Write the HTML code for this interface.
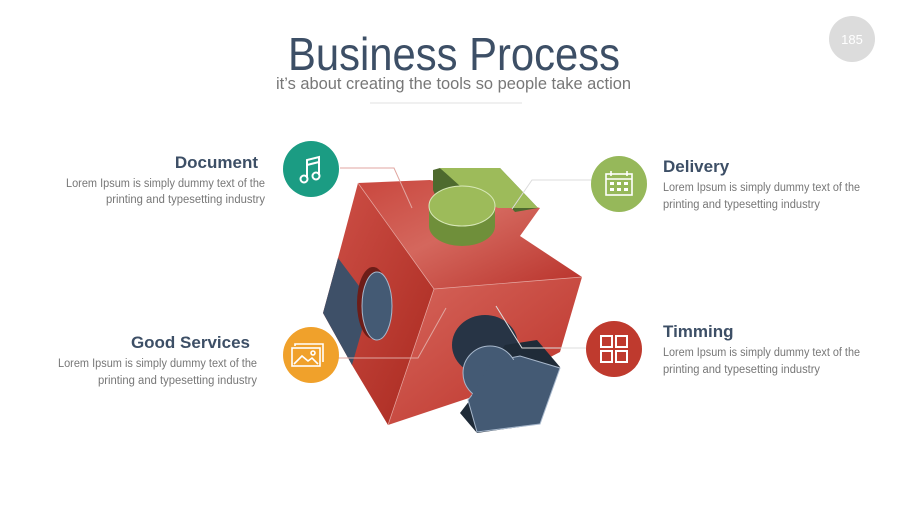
<!DOCTYPE html>
<html><head><meta charset="utf-8"><style>
html,body{margin:0;padding:0;background:#fff;width:900px;height:506px;overflow:hidden}
svg{display:block}
text{font-family:"Liberation Sans",sans-serif}
</style></head><body>
<svg width="900" height="506" viewBox="0 0 900 506">
<defs>
<linearGradient id="rt" x1="0" y1="0" x2="1" y2="1"><stop offset="0" stop-color="#c9473e"/><stop offset="0.45" stop-color="#d4675d"/><stop offset="1" stop-color="#b8312a"/></linearGradient>
<linearGradient id="rl" x1="0" y1="0" x2="1" y2="1"><stop offset="0" stop-color="#cf5148"/><stop offset="1" stop-color="#a9291f"/></linearGradient>
<linearGradient id="rr" x1="0" y1="0" x2="1" y2="1"><stop offset="0" stop-color="#d6665c"/><stop offset="1" stop-color="#bb3128"/></linearGradient>
</defs>
<circle cx="852" cy="39" r="23" fill="#dcdcdc"/>
<text x="852" y="44" font-size="13" fill="#fff" text-anchor="middle">185</text>
<text x="288" y="70" font-size="46" fill="#3d4f66" textLength="332" lengthAdjust="spacingAndGlyphs">Business Process</text>
<text x="276" y="89" font-size="17" fill="#777" textLength="355" lengthAdjust="spacingAndGlyphs">it’s about creating the tools so people take action</text>
<line x1="370" y1="103" x2="522" y2="103" stroke="#e2e2e2" stroke-width="1"/>

<!-- cube -->
<polygon points="358,183 430,180 540,208 520,236 582,277 434,289" fill="url(#rt)"/>
<polygon points="358,183 434,289 388,425 352,365 323,313 338,258" fill="url(#rl)"/>
<polygon points="434,289 582,277 560,352 478,395 388,425" fill="url(#rr)"/>
<!-- green piece -->
<ellipse cx="462" cy="212" rx="33" ry="22" fill="#6d1d18"/>
<polygon points="433,170 440,168 476,198 462,212 445,218 433,190" fill="#4e6a2e"/>
<polygon points="500,168 538,208 515,212 500,195" fill="#4e6a2e"/>
<polygon points="440,168 500,168 538,208 498,208 470,195" fill="#9dbb5a"/>
<path d="M429,206 L429,226 A33,20 0 0 0 495,226 L495,206 Z" fill="#6f8f3a"/>
<ellipse cx="462" cy="206" rx="33" ry="20" fill="#9dbb5a" stroke="#d8e8b8" stroke-width="1"/>
<!-- left blue piece -->
<polygon points="323,313 338,258 362,290 362,330 352,365" fill="#3e5068"/>
<ellipse cx="373" cy="303" rx="16" ry="36" fill="#6d1d18"/>
<ellipse cx="377" cy="306" rx="15" ry="34" fill="#445a74" stroke="#a8b8cc" stroke-width="1"/>
<!-- bottom blue piece -->
<ellipse cx="485" cy="345" rx="33" ry="30" fill="#273445"/>
<polygon points="505,345 537,340 560,367 540,424 477,433 460,413 470,400" fill="#1f2b38"/>
<polygon points="500,360 520,356 560,368 540,424 477,432 468,400" fill="#445a74" stroke="#a8b8cc" stroke-width="1"/>
<circle cx="490" cy="373" r="27" fill="#445a74" stroke="#a8b8cc" stroke-width="1"/>
<polygon points="490,365 522,358 556,370 536,420 480,428 472,395" fill="#445a74"/>
<!-- connector lines -->
<polyline points="340,168 394,168 412,208" fill="none" stroke="#e0a6a0" stroke-width="1"/>
<polyline points="647,180 532,180 512,209" fill="none" stroke="#dcdcdc" stroke-width="1"/>
<polyline points="586,348 522,348 496,306" fill="none" stroke="#dcdcdc" stroke-width="1"/>
<polyline points="338,358 418,358 446,308" fill="none" stroke="#e0a6a0" stroke-width="1"/>
<line x1="358" y1="183" x2="434" y2="289" stroke="#e6a8a2" stroke-width="0.7"/>
<line x1="434" y1="289" x2="582" y2="277" stroke="#e6a8a2" stroke-width="0.7"/>
<line x1="434" y1="289" x2="388" y2="425" stroke="#e6a8a2" stroke-width="0.7"/>

<!-- circles -->
<circle cx="311" cy="169" r="28" fill="#1b9c83"/>
<g fill="none" stroke="#fff" stroke-width="2"><path d="M307,178 V160 L319,157 V175"/><path d="M307,165 L319,162"/><circle cx="304" cy="179" r="3.5"/><circle cx="316" cy="176" r="3.5"/></g>
<circle cx="619" cy="184" r="28" fill="#96b85a"/>
<g fill="none" stroke="#fff" stroke-width="1.6"><rect x="606" y="174" width="26" height="21"/><line x1="606" y1="179" x2="632" y2="179"/><line x1="611" y1="171" x2="611" y2="176"/><line x1="627" y1="171" x2="627" y2="176"/></g>
<g fill="#fff"><rect x="610" y="182" width="4" height="3"/><rect x="617" y="182" width="4" height="3"/><rect x="624" y="182" width="4" height="3"/><rect x="610" y="188" width="4" height="3"/><rect x="617" y="188" width="4" height="3"/><rect x="624" y="188" width="4" height="3"/></g>
<circle cx="614" cy="349" r="28" fill="#bf3a2e"/>
<g fill="none" stroke="#fff" stroke-width="2"><rect x="601" y="336" width="11" height="11"/><rect x="616" y="336" width="11" height="11"/><rect x="601" y="351" width="11" height="11"/><rect x="616" y="351" width="11" height="11"/></g>
<circle cx="311" cy="355" r="28" fill="#f0a12b"/>
<g fill="none" stroke="#fff" stroke-width="1.6"><rect x="292" y="348" width="28" height="18"/><path d="M295,346 V344 H323 V362"/><path d="M294,364 L302,356 L308,361 L312,358 L318,364"/><circle cx="313" cy="353" r="2"/></g>

<!-- text -->
<text x="258" y="168" font-size="17" font-weight="bold" fill="#3d4f66" text-anchor="end">Document</text>
<text x="265" y="187" font-size="11.5" fill="#777" text-anchor="end" textLength="199" lengthAdjust="spacingAndGlyphs">Lorem Ipsum is simply dummy text of the</text>
<text x="265" y="203" font-size="11.5" fill="#777" text-anchor="end" textLength="159" lengthAdjust="spacingAndGlyphs">printing and typesetting industry</text>

<text x="663" y="172" font-size="17" font-weight="bold" fill="#3d4f66">Delivery</text>
<text x="663" y="191" font-size="11.5" fill="#777" textLength="197" lengthAdjust="spacingAndGlyphs">Lorem Ipsum is simply dummy text of the</text>
<text x="663" y="208" font-size="11.5" fill="#777" textLength="157" lengthAdjust="spacingAndGlyphs">printing and typesetting industry</text>

<text x="663" y="337" font-size="17" font-weight="bold" fill="#3d4f66">Timming</text>
<text x="663" y="356" font-size="11.5" fill="#777" textLength="197" lengthAdjust="spacingAndGlyphs">Lorem Ipsum is simply dummy text of the</text>
<text x="663" y="373" font-size="11.5" fill="#777" textLength="157" lengthAdjust="spacingAndGlyphs">printing and typesetting industry</text>

<text x="250" y="348" font-size="17" font-weight="bold" fill="#3d4f66" text-anchor="end">Good Services</text>
<text x="257" y="367" font-size="11.5" fill="#777" text-anchor="end" textLength="199" lengthAdjust="spacingAndGlyphs">Lorem Ipsum is simply dummy text of the</text>
<text x="257" y="384" font-size="11.5" fill="#777" text-anchor="end" textLength="159" lengthAdjust="spacingAndGlyphs">printing and typesetting industry</text>
</svg>
</body></html>
